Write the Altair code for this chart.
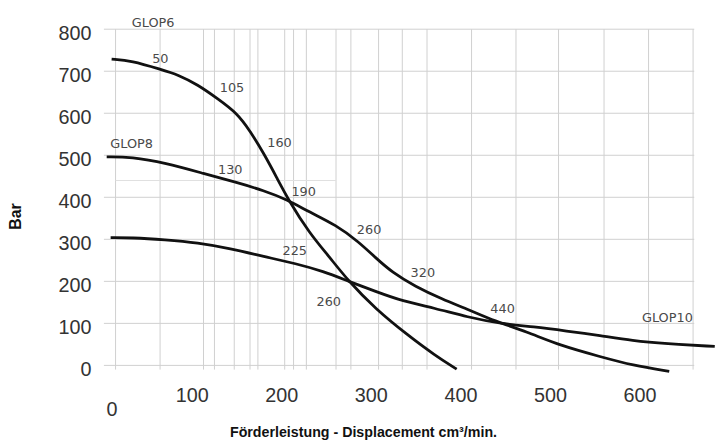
import altair as alt
import pandas as pd

# ---- data ----
glop6_x = [10.6, 32.7, 65.8, 84.5, 106.6, 128.7, 150.8, 165.1, 180.6, 194.9, 208.2, 231.3, 253.4, 274.4, 305.3, 341.7, 371.5, 395.8]
glop6_y = [729, 725, 704, 692, 668, 635, 600, 558, 504, 447, 393, 315, 259, 202, 134, 71, 24, -9]

glop8_x = [5.1, 32.7, 70.2, 114.3, 150.8, 180.6, 206.0, 231.3, 261.1, 286.5, 305.3, 324.1, 349.4, 379.2, 410.1, 437.7, 474.1, 511.7, 555.8, 592.3, 633.1]
glop8_y = [496, 496, 482, 456, 435, 416, 395, 365, 334, 294, 256, 221, 188, 158, 132, 106, 80, 47, 21, 0, -14]

glop10_x = [9.5, 32.7, 70.2, 106.6, 143.0, 180.6, 216.8, 246.6, 275.3, 305.3, 335.1, 371.5, 407.9, 445.4, 481.8, 518.3, 555.8, 592.3, 628.7, 683.9]
glop10_y = [304, 304, 299, 292, 278, 259, 242, 224, 200, 176, 153, 136, 115, 99, 92, 82, 71, 59, 52, 45]

ann_text = ["GLOP6", "50", "105", "160", "GLOP8", "130", "190", "260", "225", "260", "320", "440", "GLOP10"]
ann_x = [57, 65, 145, 198, 33, 143, 225, 298, 215, 253, 358, 447, 631]
ann_y = [814, 729, 661, 529, 527, 466, 412, 322, 271, 151, 219, 134, 113]

x_tick_values = [100, 200, 300, 400, 500, 600]
y_tick_values = [0, 100, 200, 300, 400, 500, 600, 700, 800]
zero_label = ["0"]

vgrid_x = [15.0, 64.7, 113.2, 125.4, 147.5, 165.1, 173.9, 203.8, 213.7, 228.0, 261.1, 277.7,
           308.6, 335.1, 362.7, 412.4, 462.0, 509.5, 560.3, 610.0, 659.7]
hgrid_y = [0, 100, 200, 300, 400, 500, 600, 700, 800]
extra_hgrid_y = [440]
extra_hgrid_x = [15.0]
extra_hgrid_x2 = [261.1]

x_title = "Förderleistung - Displacement cm³/min."
y_title = "Bar"

# ---- tables ----
curves = pd.concat([
    pd.DataFrame({"series": "GLOP6", "x": glop6_x, "y": glop6_y}),
    pd.DataFrame({"series": "GLOP8", "x": glop8_x, "y": glop8_y}),
    pd.DataFrame({"series": "GLOP10", "x": glop10_x, "y": glop10_y}),
], ignore_index=True)
ann = pd.DataFrame({"t": ann_text, "x": ann_x, "y": ann_y})
vgrid = pd.DataFrame({"x": vgrid_x, "y": [800] * len(vgrid_x), "y2": [-10] * len(vgrid_x)})
hgrid = pd.DataFrame({"y": hgrid_y})
xgrid2 = pd.DataFrame({"y": extra_hgrid_y, "x": extra_hgrid_x, "x2": extra_hgrid_x2})
zero_df = pd.DataFrame({"t": zero_label, "x": [0], "y": [0]})

XS = alt.Scale(domain=[2, 661], nice=False, zero=False)
YS = alt.Scale(domain=[0, 800], nice=False, zero=False)
label_font = "Liberation Sans"

x_axis = alt.Axis(values=x_tick_values, grid=False, domain=False, ticks=False, tickSize=0,
                  labelFont=label_font, labelFontSize=20, labelColor="#333333",
                  labelPadding=21, title=x_title, titleFont=label_font, titleFontSize=14.4,
                  titleFontWeight="bold", titleColor="#111111", titleX=262, titleY=68,
                  titleBaseline="middle", titleAlign="center")
y_axis = alt.Axis(values=y_tick_values, grid=False, domain=False, ticks=False, tickSize=0,
                  labelFont=label_font, labelFontSize=20, labelColor="#333333",
                  labelPadding=13, labelOffset=4, title=y_title, titleFont=label_font,
                  titleFontSize=16, titleFontWeight="bold", titleColor="#111111",
                  titleAngle=270, titleX=-89, titleY=189, titleBaseline="middle",
                  titleAlign="center")

grid_color = "#cfcfcf"

vlines = alt.Chart(vgrid).mark_rule(color=grid_color, strokeWidth=1).encode(
    x=alt.X("x:Q", scale=XS, axis=x_axis),
    y=alt.Y("y:Q", scale=YS, axis=y_axis),
    y2="y2:Q",
)
hlines = alt.Chart(hgrid).mark_rule(color=grid_color, strokeWidth=1).encode(
    y=alt.Y("y:Q", scale=YS),
)
hlines2 = alt.Chart(xgrid2).mark_rule(color="#e0e0e0", strokeWidth=1).encode(
    y=alt.Y("y:Q", scale=YS), x=alt.X("x:Q", scale=XS), x2="x2:Q",
)
lines = alt.Chart(curves).mark_line(color="#111111", strokeWidth=2.8, interpolate="basis").encode(
    x=alt.X("x:Q", scale=XS),
    y=alt.Y("y:Q", scale=YS),
    detail="series:N",
    order="x:Q",
)
texts = alt.Chart(ann).mark_text(font="DejaVu Sans", fontSize=13, color="#4a4a4a",
                                 align="center", baseline="middle").encode(
    x=alt.X("x:Q", scale=XS), y=alt.Y("y:Q", scale=YS), text="t:N",
)
zero = alt.Chart(zero_df).mark_text(font=label_font, fontSize=20, color="#333333",
                                    align="center", baseline="middle", dx=10, dy=45).encode(
    x=alt.X("x:Q", scale=XS), y=alt.Y("y:Q", scale=YS), text="t:N",
)

chart = alt.layer(vlines, hlines, hlines2, lines, texts, zero).properties(
    width=597, height=340,
    padding={"left": 97, "top": 19, "right": 22, "bottom": 73},
    autosize=alt.AutoSizeParams(type="none"),
    background="white",
).configure_view(stroke=None)

chart.save("out.html", embed_options={"renderer": "svg", "actions": False})
